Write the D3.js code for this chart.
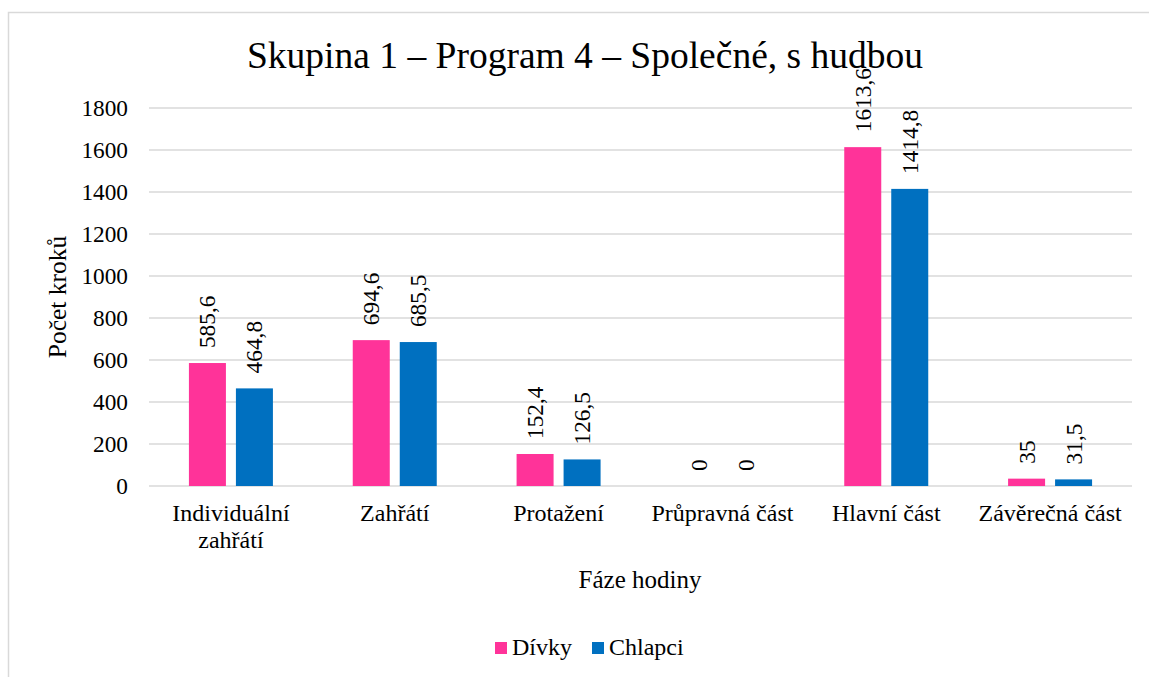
<!DOCTYPE html>
<html>
<head>
<meta charset="utf-8">
<script src="https://cdn.jsdelivr.net/npm/d3@7"></script>
<style>
  body { margin: 0; background: #fff; }
  svg text { font-family: "Liberation Serif", "Times New Roman", serif; fill: #000; }
</style>
</head>
<body>
<svg id="chart"></svg>
<script>
const categories = ['Individuální zahřátí', 'Zahřátí', 'Protažení', 'Průpravná část', 'Hlavní část', 'Závěrečná část'];
const series = ['Dívky', 'Chlapci'];
const divky = [585.6, 694.6, 152.4, 0, 1613.6, 35];
const chlapci = [464.8, 685.5, 126.5, 0, 1414.8, 31.5];
const yTicks = [0, 200, 400, 600, 800, 1000, 1200, 1400, 1600, 1800];
const colors = ['#FF3399', '#0070C0'];

const width = 1149, height = 677;

const svg = d3.select('#chart')
              .attr('width', width)
              .attr('height', height);

// chart frame
svg.append('path')
	.attr('d', `M8.5,${height} V12.5 H${width}`)
	.attr('fill', 'none')
	.attr('stroke', '#d9d9d9')
	.attr('stroke-width', 1.5);

const x = d3.scaleBand()
			.domain(categories)
			.range([149, 1132]);
const xs = d3.scaleBand()
			.domain(series)
			.range([-42, 42])
			.paddingInner(10 / 47);
const y = d3.scaleLinear()
			.domain([0, 1800])
			.range([486, 108]);

// gridlines
svg.append('g')
	.selectAll('line')
	.data(yTicks)
	.enter()
	.append('line')
	.attr('x1', 149)
	.attr('x2', 1132)
	.attr('y1', d => y(d))
	.attr('y2', d => y(d))
	.attr('stroke', '#d9d9d9')
	.attr('stroke-width', 1.3);

// y tick labels
svg.append('g')
	.selectAll('text')
	.data(yTicks)
	.enter()
	.append('text')
	.attr('x', 128)
	.attr('y', d => y(d))
	.attr('dy', '0.34em')
	.attr('font-size', '23.3px')
	.style('text-anchor', 'end')
	.text(d => d);

const rows = categories.map((c, i) => ({cat: c, values: [divky[i], chlapci[i]]}));

const groups = svg.append('g')
	.selectAll('.group')
	.data(rows)
	.enter()
	.append('g')
	.classed('group', true)
	.attr('transform', d => `translate(${x(d.cat) + x.bandwidth() / 2},0)`);

groups.selectAll('rect')
	.data(d => d.values.map((v, i) => ({s: series[i], v: v, i: i})))
	.enter()
	.append('rect')
	.attr('x', d => xs(d.s))
	.attr('width', xs.bandwidth())
	.attr('y', d => y(d.v))
	.attr('height', d => y(0) - y(d.v))
	.attr('fill', d => colors[d.i]);

const fmt = v => String(v).replace('.', ',');

groups.selectAll('.val')
	.data(d => d.values.map((v, i) => ({s: series[i], v: v})))
	.enter()
	.append('text')
	.classed('val', true)
	.attr('font-size', '23.3px')
	.attr('transform', d => `translate(${xs(d.s) + xs.bandwidth() / 2},${y(d.v) - 15}) rotate(-90)`)
	.attr('dy', '0.34em')
	.style('text-anchor', 'start')
	.text(d => fmt(d.v));

// category labels, wrapped to the band width
groups.append('text')
	.attr('y', 521)
	.attr('font-size', '24px')
	.style('text-anchor', 'middle')
	.each(function(d) {
		const t = d3.select(this);
		const words = d.cat.split(' ');
		let line = [], lineNo = 0;
		let tspan = t.append('tspan').attr('x', 0).attr('y', 521);
		words.forEach(w => {
			line.push(w);
			tspan.text(line.join(' '));
			if (tspan.node().getComputedTextLength() > x.bandwidth() - 4 && line.length > 1) {
				line.pop();
				tspan.text(line.join(' '));
				line = [w];
				lineNo += 1;
				tspan = t.append('tspan').attr('x', 0).attr('y', 521 + lineNo * 27).text(w);
			}
		});
	});

// title
svg.append('text')
	.attr('x', 585)
	.attr('y', 68)
	.attr('font-size', '37.5px')
	.style('text-anchor', 'middle')
	.text('Skupina 1 – Program 4 – Společné, s hudbou');

// axis titles
svg.append('text')
	.attr('x', 640)
	.attr('y', 588)
	.attr('font-size', '25px')
	.style('text-anchor', 'middle')
	.text('Fáze hodiny');

svg.append('text')
	.attr('transform', 'translate(66,297) rotate(-90)')
	.attr('font-size', '25.5px')
	.style('text-anchor', 'middle')
	.text('Počet kroků');

// legend
const legend = svg.append('g')
	.selectAll('g')
	.data(series)
	.enter()
	.append('g')
	.attr('transform', (d, i) => `translate(${[495, 592][i]},0)`);

legend.append('rect')
	.attr('y', 642)
	.attr('width', 12)
	.attr('height', 12)
	.attr('fill', (d, i) => colors[i]);

legend.append('text')
	.attr('x', 17)
	.attr('y', 655)
	.attr('font-size', '24px')
	.text(d => d);
</script>
</body>
</html>
